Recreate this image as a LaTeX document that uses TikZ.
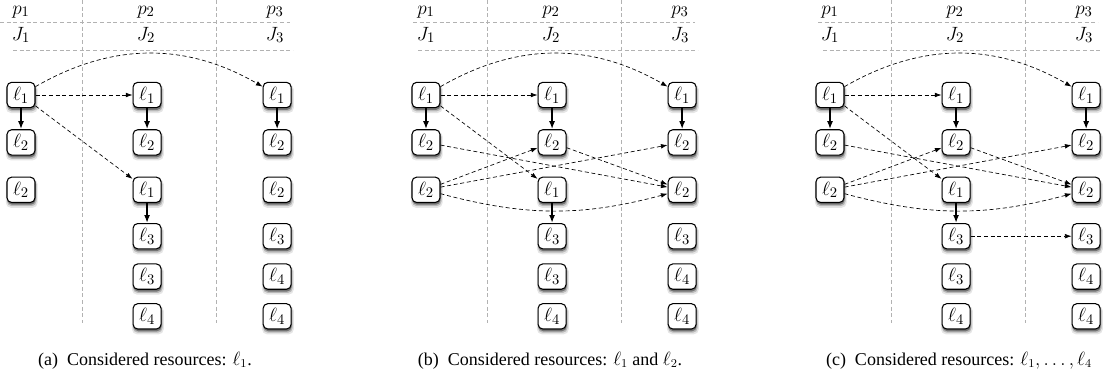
\documentclass[tikz,border=0pt]{standalone}
\usepackage{fontspec}
\setmainfont{Liberation Serif}
\newfontfamily\captfont{Liberation Serif}
\usetikzlibrary{arrows.meta, positioning, shadows}

\begin{document}
\begin{tikzpicture}[
        x=0.75pt, y=-0.75pt,
        node distance=15.75pt and 72.75pt,
        res/.style={rectangle, rounded corners=3.5pt, draw=black, line width=0.8pt, fill=white, minimum width=21pt, minimum height=19pt, inner sep=1.5pt, font=\fontsize{15}{18}\selectfont,
            general shadow={shadow xshift=0.5pt, shadow yshift=-2.4pt, shadow scale=1.14, fill=black!10},
            general shadow={shadow xshift=0.5pt, shadow yshift=-2.1pt, shadow scale=1.06, fill=black!28},
            general shadow={shadow xshift=0.4pt, shadow yshift=-1.7pt, fill=black!55}},
        head/.style={anchor=base, font=\fontsize{15}{18}\selectfont},
        capt/.style={anchor=base, font=\captfont\fontsize{13.5}{16}\selectfont},
        sepline/.style={gray!60, dash pattern=on 3pt off 2pt, line width=0.5pt},
        nxt/.style={-{Latex[length=6pt, width=4.5pt]}, line width=1.2pt},
        hop/.style={-{Latex[length=5pt, width=3.5pt]}, dash pattern=on 3pt off 2pt, line width=0.5pt},
        ]
        \useasboundingbox (0,0) rectangle (1110,382);

        % (a) resource l1 only
        \draw[sepline] (0,22) -- (290,22);
        \draw[sepline] (13,50) -- (293,50);
        \draw[sepline] (82,0) -- (82,323);
        \draw[sepline] (216,0) -- (216,323);
        \node[head] (ap1) at (21,14) {$p_1$};
        \node[head] (ap2) at (146,14) {$p_2$};
        \node[head] (ap3) at (275,14) {$p_3$};
        \node[head] (aj1) at (21,40) {$J_1$};
        \node[head] (aj2) at (146,40) {$J_2$};
        \node[head] (aj3) at (275,40) {$J_3$};

        \node[res] (a11) at (21,95) {$\ell_1$};
        \node[res, below=of a11] (a12) {$\ell_2$};
        \node[res, below=of a12] (a13) {$\ell_2$};
        \node[res, right=of a11] (a21) {$\ell_1$};
        \node[res, below=of a21] (a22) {$\ell_2$};
        \node[res, below=of a22] (a23) {$\ell_1$};
        \node[res, below=15pt of a23] (a24) {$\ell_3$};
        \node[res, below=10.5pt of a24] (a25) {$\ell_3$};
        \node[res, below=10pt of a25] (a26) {$\ell_4$};
        \node[res, right=75.75pt of a21] (a31) {$\ell_1$};
        \node[res, below=of a31] (a32) {$\ell_2$};
        \node[res, below=of a32] (a33) {$\ell_2$};
        \node[res, below=15pt of a33] (a34) {$\ell_3$};
        \node[res, below=10.5pt of a34] (a35) {$\ell_4$};
        \node[res, below=10pt of a35] (a36) {$\ell_4$};

        \draw[nxt] (a11) -- (a12);
        \draw[nxt] (a21) -- (a22);
        \draw[nxt] (a31) -- (a32);
        \draw[nxt] (a23) -- (a24);
        \draw[hop] (a11) -- (a21);
        \draw[hop] (a11) to[bend left=30] (a31);
        \draw[hop] (a11) -- (a23);

        \node[capt] (capa) at (145,365) {(a)\ \ Considered resources: $\ell_1$.};

        % (b) resources l1 and l2
        \begin{scope}[xshift=303.75pt]
        \draw[sepline] (8,22) -- (290,22);
        \draw[sepline] (13,50) -- (293,50);
        \draw[sepline] (82,0) -- (82,323);
        \draw[sepline] (216,0) -- (216,323);
        \node[head] (bp1) at (21,14) {$p_1$};
        \node[head] (bp2) at (146,14) {$p_2$};
        \node[head] (bp3) at (275,14) {$p_3$};
        \node[head] (bj1) at (21,40) {$J_1$};
        \node[head] (bj2) at (146,40) {$J_2$};
        \node[head] (bj3) at (275,40) {$J_3$};

        \node[res] (b11) at (21,95) {$\ell_1$};
        \node[res, below=of b11] (b12) {$\ell_2$};
        \node[res, below=of b12] (b13) {$\ell_2$};
        \node[res, right=of b11] (b21) {$\ell_1$};
        \node[res, below=of b21] (b22) {$\ell_2$};
        \node[res, below=of b22] (b23) {$\ell_1$};
        \node[res, below=15pt of b23] (b24) {$\ell_3$};
        \node[res, below=10.5pt of b24] (b25) {$\ell_3$};
        \node[res, below=10pt of b25] (b26) {$\ell_4$};
        \node[res, right=75.75pt of b21] (b31) {$\ell_1$};
        \node[res, below=of b31] (b32) {$\ell_2$};
        \node[res, below=of b32] (b33) {$\ell_2$};
        \node[res, below=15pt of b33] (b34) {$\ell_3$};
        \node[res, below=10.5pt of b34] (b35) {$\ell_4$};
        \node[res, below=10pt of b35] (b36) {$\ell_4$};

        \draw[nxt] (b11) -- (b12);
        \draw[nxt] (b21) -- (b22);
        \draw[nxt] (b31) -- (b32);
        \draw[nxt] (b23) -- (b24);
        \draw[hop] (b11) -- (b21);
        \draw[hop] (b11) to[bend left=30] (b31);
        \draw[hop] (b11) -- (b23);
        \draw[hop] (b12) -- (b33);
        \draw[hop] (b13) -- (b22);
        \draw[hop] (b13) -- (b32);
        \draw[hop] (b13) to[bend right=15] (b33);
        \draw[hop] (b22) -- (b33);

        \node[capt] (capb) at (145,365) {(b)\ \ Considered resources: $\ell_1$ and $\ell_2$.};
        \end{scope}

        % (c) resources l1 to l4
        \begin{scope}[xshift=606.75pt]
        \draw[sepline] (9,22) -- (289,22);
        \draw[sepline] (14,50) -- (293,50);
        \draw[sepline] (82,0) -- (82,323);
        \draw[sepline] (216,0) -- (216,323);
        \node[head] (cp1) at (21,14) {$p_1$};
        \node[head] (cp2) at (146,14) {$p_2$};
        \node[head] (cp3) at (275,14) {$p_3$};
        \node[head] (cj1) at (21,40) {$J_1$};
        \node[head] (cj2) at (146,40) {$J_2$};
        \node[head] (cj3) at (275,40) {$J_3$};

        \node[res] (c11) at (21,95) {$\ell_1$};
        \node[res, below=of c11] (c12) {$\ell_2$};
        \node[res, below=of c12] (c13) {$\ell_2$};
        \node[res, right=of c11] (c21) {$\ell_1$};
        \node[res, below=of c21] (c22) {$\ell_2$};
        \node[res, below=of c22] (c23) {$\ell_1$};
        \node[res, below=15pt of c23] (c24) {$\ell_3$};
        \node[res, below=10.5pt of c24] (c25) {$\ell_3$};
        \node[res, below=10pt of c25] (c26) {$\ell_4$};
        \node[res, right=75.75pt of c21] (c31) {$\ell_1$};
        \node[res, below=of c31] (c32) {$\ell_2$};
        \node[res, below=of c32] (c33) {$\ell_2$};
        \node[res, below=15pt of c33] (c34) {$\ell_3$};
        \node[res, below=10.5pt of c34] (c35) {$\ell_4$};
        \node[res, below=10pt of c35] (c36) {$\ell_4$};

        \draw[nxt] (c11) -- (c12);
        \draw[nxt] (c21) -- (c22);
        \draw[nxt] (c31) -- (c32);
        \draw[nxt] (c23) -- (c24);
        \draw[hop] (c11) -- (c21);
        \draw[hop] (c11) to[bend left=30] (c31);
        \draw[hop] (c11) -- (c23);
        \draw[hop] (c12) -- (c33);
        \draw[hop] (c13) -- (c22);
        \draw[hop] (c13) -- (c32);
        \draw[hop] (c13) to[bend right=15] (c33);
        \draw[hop] (c22) -- (c33);
        \draw[hop] (c24) -- (c34);

        \node[capt] (capc) at (150,365) {(c)\ \ Considered resources: $\ell_1,\dots,\ell_4$};
        \end{scope}

    \end{tikzpicture}
\end{document}
